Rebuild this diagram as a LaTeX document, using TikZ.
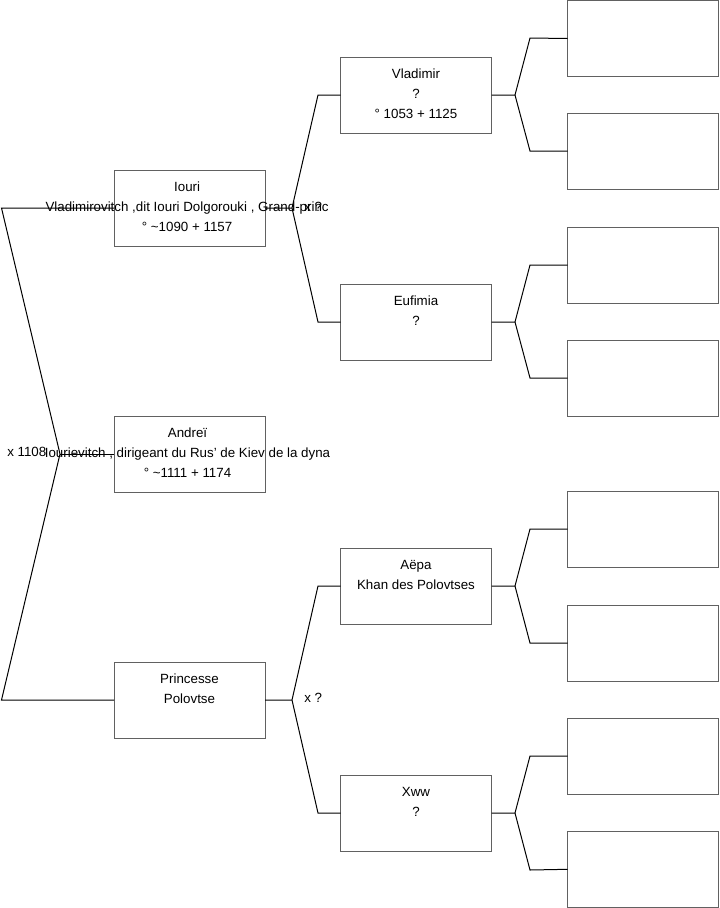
\documentclass[tikz,border=0pt]{standalone}
\usepackage{fontspec}
\setmainfont{Liberation Sans}
\begin{document}
\begin{tikzpicture}[x=0.75pt,y=-0.75pt,
  box/.style={draw=black!62,line width=0.75pt,minimum width=113.25pt,minimum height=57pt,inner sep=0pt,outer sep=0pt},
  txt/.style={anchor=north,inner sep=0pt,align=center,font=\fontsize{10}{15}\selectfont},
  lbl/.style={anchor=base west,inner sep=0pt,font=\fontsize{10}{15}\selectfont},
  conn/.style={draw=black,line width=0.75pt}]
\useasboundingbox (0,0) rectangle (719,908);
% generation 1
\node[box] (iouri) at (189.5,208) {};
\node[box] (andrei) at (189.5,454) {};
\node[box] (princesse) at (189.5,700) {};
% generation 2
\node[box] (vladimir) at (416,95) {};
\node[box] (eufimia) at (416,322) {};
\node[box] (aepa) at (416,586) {};
\node[box] (xww) at (416,813) {};
% generation 3
\node[box] (r1) at (643,38.5) {};
\node[box] (r2) at (643,151) {};
\node[box] (r3) at (643,265) {};
\node[box] (r4) at (643,378) {};
\node[box] (r5) at (643,529) {};
\node[box] (r6) at (643,643) {};
\node[box] (r7) at (643,756) {};
\node[box] (r8) at (643,869.3) {};
% texts
\node[txt] (tiouri) at ([xshift=-1.8pt,yshift=-5.25pt]iouri.north) {\strut Iouri\\Vladimirovitch ,dit Iouri Dolgorouki , Grand-princ\\° \textasciitilde 1090 + 1157};
\node[txt] (tandrei) at ([xshift=-1.5pt,yshift=-5.25pt]andrei.north) {\strut Andreï\\Iourievitch , dirigeant du Rus' de Kiev de la dyna\\° \textasciitilde 1111 + 1174};
\node[txt] (tprincesse) at ([yshift=-5.25pt]princesse.north) {\strut Princesse\\Polovtse};
\node[txt] (tvladimir) at ([yshift=-5.25pt]vladimir.north) {\strut Vladimir\\?\\° 1053 + 1125};
\node[txt] (teufimia) at ([yshift=-5.25pt]eufimia.north) {\strut Eufimia\\?};
\node[txt] (taepa) at ([yshift=-5.25pt]aepa.north) {\strut Aëpa\\Khan des Polovtses};
\node[txt] (txww) at ([yshift=-5.25pt]xww.north) {\strut Xww\\?};
% marriage labels
\node[lbl] (m1) at (7,456) {x 1108};
\node[lbl] (m2) at (304,211) {x ?};
\node[lbl] (m3) at (304,702) {x ?};
% coordinates
\coordinate (lt) at (1.5,208);
\coordinate (lb) at (1.5,700);
\coordinate (lj) at (60,454);
\coordinate (ij) at (292,208);
\coordinate (iv) at (318,95);
\coordinate (ie) at (318,322);
\coordinate (pj) at (292,700);
\coordinate (pa) at (318,586);
\coordinate (px) at (318,813);
\coordinate (vj) at (515,95);
\coordinate (v1) at (530,38);
\coordinate (v2) at (530,151);
\coordinate (ej) at (515,322);
\coordinate (e1) at (530,265);
\coordinate (e2) at (530,378);
\coordinate (aj) at (515,586);
\coordinate (a1) at (530,529);
\coordinate (a2) at (530,643);
\coordinate (xj) at (515,813);
\coordinate (x1) at (530,756);
\coordinate (x2) at (530,870);
% connectors
\draw[conn] (iouri.west) -- (lt) -- (lj) -- (lb) -- (princesse.west);
\draw[conn] (lj) -- (andrei.west);
\draw[conn] (iouri.east) -- (ij) -- (iv) -- (vladimir.west);
\draw[conn] (ij) -- (ie) -- (eufimia.west);
\draw[conn] (princesse.east) -- (pj) -- (pa) -- (aepa.west);
\draw[conn] (pj) -- (px) -- (xww.west);
\draw[conn] (vladimir.east) -- (vj) -- (v1) -- (r1.west);
\draw[conn] (vj) -- (v2) -- (r2.west);
\draw[conn] (eufimia.east) -- (ej) -- (e1) -- (r3.west);
\draw[conn] (ej) -- (e2) -- (r4.west);
\draw[conn] (aepa.east) -- (aj) -- (a1) -- (r5.west);
\draw[conn] (aj) -- (a2) -- (r6.west);
\draw[conn] (xww.east) -- (xj) -- (x1) -- (r7.west);
\draw[conn] (xj) -- (x2) -- (r8.west);
\end{tikzpicture}
\end{document}
